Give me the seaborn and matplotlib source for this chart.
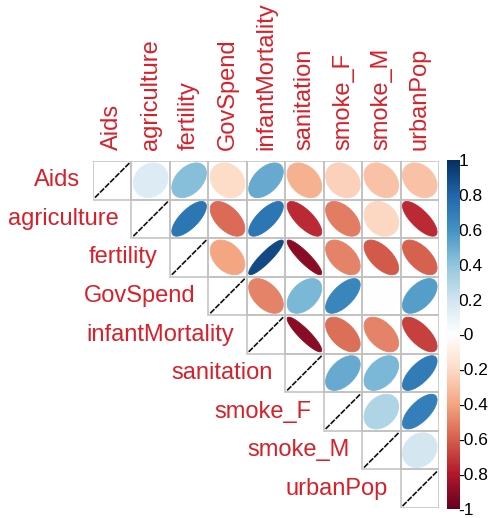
import numpy as np
import pandas as pd
import seaborn as sns
import matplotlib
matplotlib.use("Agg")
import matplotlib.pyplot as plt
from matplotlib.patches import Polygon, Rectangle
from matplotlib.colors import LinearSegmentedColormap

sns.set_style("white")
plt.rcParams["font.family"] = ["Liberation Sans", "DejaVu Sans"]

variables = ["Aids", "agriculture", "fertility", "GovSpend", "infantMortality",
             "sanitation", "smoke_F", "smoke_M", "urbanPop"]

# upper-triangle correlations, row by row (entries to the right of the diagonal)
r_aids = [0.15, 0.42, -0.20, 0.50, -0.36, -0.24, -0.30, -0.30]
r_agriculture = [0.72, -0.56, 0.72, -0.75, -0.52, -0.22, -0.75]
r_fertility = [-0.40, 0.90, -0.90, -0.50, -0.62, -0.60]
r_govspend = [-0.50, 0.45, 0.65, 0.00, 0.55]
r_infant = [-0.90, -0.55, -0.50, -0.68]
r_sanitation = [0.50, 0.45, 0.70]
r_smoke_f = [0.30, 0.68]
r_smoke_m = [0.18]

upper_rows = [r_aids, r_agriculture, r_fertility, r_govspend, r_infant,
              r_sanitation, r_smoke_f, r_smoke_m, []]

n = len(variables)
corr = np.eye(n)
for i, row in enumerate(upper_rows):
    for k, v in enumerate(row):
        j = i + 1 + k
        corr[i, j] = v
        corr[j, i] = v
corr_df = pd.DataFrame(corr, index=variables, columns=variables)

# diverging red-white-blue palette
palette = ["#67001F", "#B2182B", "#D6604D", "#F4A582", "#FDDBC7", "#FFFFFF",
           "#D1E5F0", "#92C5DE", "#4393C3", "#2166AC", "#053061"]
cmap = LinearSegmentedColormap.from_list("rdbu2", palette, N=200)
label_color = "#d8202a"

fig = plt.figure(figsize=(4.92, 5.18), dpi=100)
ax = fig.add_axes([93 / 492, 1 - 508 / 518, 346 / 492, 347 / 518])
cax = fig.add_axes([447 / 492, 1 - 509 / 518, 13 / 492, 349 / 518])

# heatmap provides the unit-cell axes and the colour bar; cells themselves are masked
sns.heatmap(corr_df, mask=np.ones_like(corr, dtype=bool), cmap=cmap,
            vmin=-1, vmax=1, ax=ax, cbar_ax=cax, square=False,
            xticklabels=False, yticklabels=False)

t = np.linspace(0, 2 * np.pi, 120)
scale = 0.45
for i in range(n):
    for j in range(i, n):
        ax.add_patch(Rectangle((j, i), 1, 1, fill=False, edgecolor="#c0c0c0",
                               lw=1.1, zorder=1))
        rho = corr_df.iloc[i, j]
        cx, cy = j + 0.5, i + 0.5
        if i == j:
            ax.plot([cx - scale, cx + scale], [cy + scale, cy - scale],
                    color="#111111", lw=1.2, dashes=(3.5, 0.8), zorder=3)
            continue
        a = np.arccos(rho)
        xs = cx + scale * np.cos(t + a / 2)
        ys = cy - scale * np.cos(t - a / 2)
        color = cmap((rho + 1) / 2)
        ax.add_patch(Polygon(np.column_stack([xs, ys]), closed=True,
                             facecolor=color, edgecolor=color, lw=0.6, zorder=2))

ax.set_xlim(0, n)
ax.set_ylim(n, 0)
ax.axis("off")

for i, name in enumerate(variables):
    ax.text(i - 0.33, i + 0.5, name, ha="right", va="center", fontsize=17,
            color=label_color, clip_on=False)
    ax.text(i + 0.5, -0.28, name, ha="center", va="bottom", rotation=90,
            fontsize=17, color=label_color, clip_on=False)

cbar = ax.collections[0].colorbar
ticks = np.round(np.arange(-1, 1.01, 0.2), 1)
cbar.set_ticks(ticks)
cbar.set_ticklabels([("%g" % v).replace("\u2212", "-") for v in ticks])
cbar.outline.set_visible(False)
cax.tick_params(labelsize=12.5, length=0, pad=-1, colors="black")

fig.savefig("out.png", dpi=100)
